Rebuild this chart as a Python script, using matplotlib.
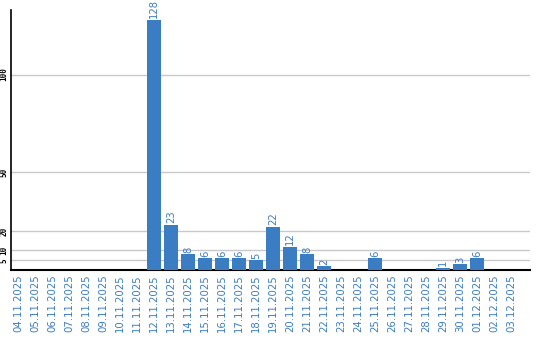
import numpy as np
import matplotlib.pyplot as plt

# Daten
tage = ['04.11.2025', '05.11.2025', '06.11.2025', '07.11.2025', '08.11.2025',
        '09.11.2025', '10.11.2025', '11.11.2025', '12.11.2025', '13.11.2025',
        '14.11.2025', '15.11.2025', '16.11.2025', '17.11.2025', '18.11.2025',
        '19.11.2025', '20.11.2025', '21.11.2025', '22.11.2025', '23.11.2025',
        '24.11.2025', '25.11.2025', '26.11.2025', '27.11.2025', '28.11.2025',
        '29.11.2025', '30.11.2025', '01.12.2025', '02.12.2025', '03.12.2025']
werte = [0, 0, 0, 0, 0, 0, 0, 0, 128, 23, 8, 6, 6, 6, 5, 22, 12, 8, 2, 0,
         0, 6, 0, 0, 0, 1, 3, 6, 0, 0]
y_ticks = [5, 10, 20, 50, 100]

blau = '#3b7dc2'

fig = plt.figure(figsize=(5.4, 3.4), dpi=100)
ax = fig.add_axes([11/540, 70/340, 519/540, 260/340])

x = np.arange(len(tage))
ax.bar(x, werte, width=0.82, color=blau, zorder=3)

for xi, w in zip(x, werte):
    if w > 0:
        ax.text(xi, w + 0.8, str(w), rotation=90, ha='center', va='bottom',
                color=blau, fontsize=7.2, zorder=4)

ax.set_xlim(-0.41, 30.1)
ax.set_ylim(0, 133)
ax.set_yticks(y_ticks)
ax.set_yticklabels([str(t) for t in y_ticks], rotation=90, va='center',
                   fontsize=5.5, family='DejaVu Sans Mono', weight='bold')
ax.set_xticks(x)
ax.set_xticklabels(tage, rotation=90, color=blau, fontsize=7.3)
ax.tick_params(length=0, pad=3)
ax.tick_params(axis='y', pad=2)
ax.grid(axis='y', color='#c8c8c8', linewidth=1, zorder=0)
ax.spines['top'].set_visible(False)
ax.spines['right'].set_visible(False)
ax.spines['left'].set_linewidth(1.2)
ax.spines['bottom'].set_linewidth(1.5)

plt.savefig('out.png', dpi=100)
